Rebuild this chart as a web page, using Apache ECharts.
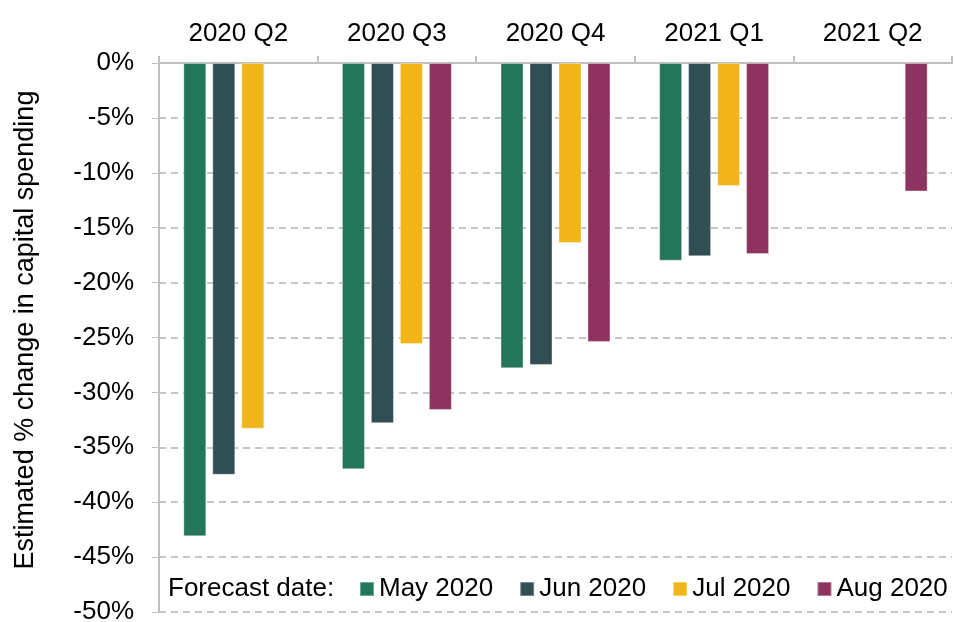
<!DOCTYPE html>
<html>
<head>
<meta charset="utf-8">
<script src="https://cdn.jsdelivr.net/npm/echarts@6/dist/echarts.min.js"></script>
<style>
html,body{margin:0;padding:0;background:#fff;}
#chart{width:955px;height:622px;}
</style>
</head>
<body>
<div id="chart"></div>
<script>
const categories = ['2020 Q2', '2020 Q3', '2020 Q4', '2021 Q1', '2021 Q2'];
const seriesNames = ['May 2020', 'Jun 2020', 'Jul 2020', 'Aug 2020'];
const may2020 = [-43.1, -37.0, -27.8, -18.0, null];
const jun2020 = [-37.5, -32.8, -27.5, -17.6, null];
const jul2020 = [-33.3, -25.6, -16.4, -11.2, null];
const aug2020 = [null, -31.6, -25.4, -17.4, -11.7];
const yTicks = [0, -5, -10, -15, -20, -25, -30, -35, -40, -45, -50];
const colors = ['#237659', '#324e55', '#f1b519', '#8e3360'];

const FONT = "'Liberation Sans', Arial, sans-serif";
const values = [may2020, jun2020, jul2020, aug2020];

const chart = echarts.init(document.getElementById('chart'), null, {renderer: 'canvas'});
chart.setOption({
  animation: false,
  backgroundColor: '#ffffff',
  textStyle: {fontFamily: FONT, color: '#000'},
  grid: {left: 159, right: 3, top: 63, bottom: 10, containLabel: false, outerBoundsMode: 'none'},
  legend: {
    data: seriesNames,
    left: 359,
    top: 576,
    itemWidth: 14,
    itemHeight: 14,
    itemGap: 26,
    icon: 'rect',
    padding: 0,
    textStyle: {fontFamily: FONT, fontSize: 26, color: '#000', padding: [0, 0, 0, 0]}
  },
  graphic: [{
    type: 'text',
    left: 168,
    top: 576,
    style: {text: 'Forecast date:', font: "26px 'Liberation Sans', Arial, sans-serif", fill: '#000'}
  }, {
    type: 'text',
    x: 26,
    y: 330,
    rotation: Math.PI / 2,
    style: {
      text: 'Estimated % change in capital spending',
      font: "27px 'Liberation Sans', Arial, sans-serif",
      fill: '#000', align: 'center', verticalAlign: 'middle'
    }
  }],
  xAxis: {
    type: 'category',
    position: 'top',
    data: categories,
    axisLine: {show: true, lineStyle: {color: '#bfbfbf', width: 2}},
    axisTick: {show: true, length: 7, lineStyle: {color: '#bfbfbf', width: 2}},
    axisLabel: {fontFamily: FONT, fontSize: 26, color: '#000', margin: 16},
    splitLine: {show: false}
  },
  yAxis: {
    type: 'value',
    min: -50,
    max: 0,
    interval: 5,
    axisLine: {show: true, lineStyle: {color: '#bfbfbf', width: 2}},
    axisTick: {show: true, length: 7, lineStyle: {color: '#bfbfbf', width: 1}},
    axisLabel: {
      fontFamily: FONT, fontSize: 26, color: '#000', margin: 25,
      formatter: function (v) { return yTicks.indexOf(v) >= 0 ? v + '%' : ''; }
    },
    splitLine: {show: true, lineStyle: {color: '#c4c4c4', width: 2, type: [7, 5]}}
  },
  series: seriesNames.map(function (name, i) {
    return {
      name: name,
      type: 'bar',
      data: values[i],
      barWidth: 23,
      barGap: '26%',
      itemStyle: {color: colors[i], borderColor: 'rgba(255,255,255,0.35)', borderWidth: 1}
    };
  })
});
</script>
</body>
</html>
